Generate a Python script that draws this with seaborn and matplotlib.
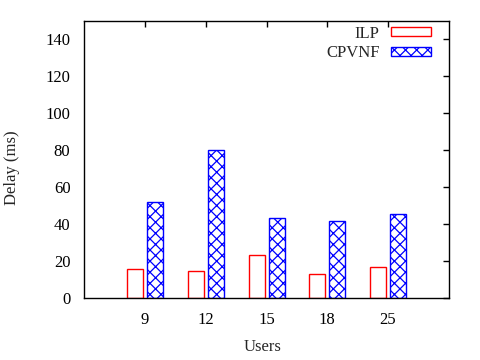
import matplotlib
matplotlib.use("Agg")
import matplotlib.pyplot as plt
import seaborn as sns
import pandas as pd
from matplotlib.patches import Patch

users = ["9", "12", "15", "18", "25"]
ilp = [16, 15, 23.3, 13, 16.8]
cpvnf = [52, 80, 43.2, 41.6, 45.4]
series_names = ["ILP", "CPVNF"]
yticks = [0, 20, 40, 60, 80, 100, 120, 140]

df = pd.DataFrame({
    "Users": users * 2,
    "Delay": ilp + cpvnf,
    "Method": [series_names[0]] * len(users) + [series_names[1]] * len(users),
})

sns.set_style("white")
plt.rcParams["font.family"] = ["Liberation Serif", "DejaVu Serif"]
plt.rcParams["hatch.linewidth"] = 0.9

fig = plt.figure(figsize=(4.8, 3.6), dpi=100)
ax = fig.add_axes([0.1756, 0.171, 0.7594, 0.7715])

sns.barplot(data=df, x="Users", y="Delay", hue="Method", order=users,
            hue_order=series_names, width=0.66, gap=0.2, ax=ax,
            palette=["white", "white"], linewidth=1.0, legend=False)

n = len(users)
for i, patch in enumerate(ax.patches[:2 * n]):
    if i < n:
        patch.set_edgecolor("red")
        patch.set_facecolor("white")
    else:
        patch.set_edgecolor("blue")
        patch.set_facecolor("white")
        patch.set_hatch("xxx")

handles = [Patch(facecolor="white", edgecolor="red", linewidth=1.0, label="ILP"),
           Patch(facecolor="white", edgecolor="blue", hatch="xxx", linewidth=1.0, label="CPVNF")]
ax.legend(handles=handles, loc="upper right", frameon=False, markerfirst=False,
          fontsize=12, handlelength=2.4, handleheight=0.45, labelspacing=0.2,
          borderaxespad=0.0, borderpad=0.3, handletextpad=0.7,
          bbox_to_anchor=(0.966, 1.0))

ax.set_xlim(-1, 5)
ax.set_ylim(0, 150)
ax.set_yticks(yticks)
ax.set_yticklabels([str(t) for t in yticks])
ax.tick_params(direction="in", length=4, width=1, top=True, right=True,
               labelsize=12, colors="black")
ax.tick_params(axis="y", pad=10)
ax.tick_params(axis="x", pad=10)
for s in ax.spines.values():
    s.set_visible(True)
    s.set_color("black")
    s.set_linewidth(1.0)

ax.set_xlabel("Users", fontsize=12)
ax.set_ylabel("Delay (ms)", fontsize=12)
ax.xaxis.set_label_coords(0.49, -0.145)
ax.yaxis.set_label_coords(-0.176, 0.47)

fig.savefig("out.png", dpi=100)
